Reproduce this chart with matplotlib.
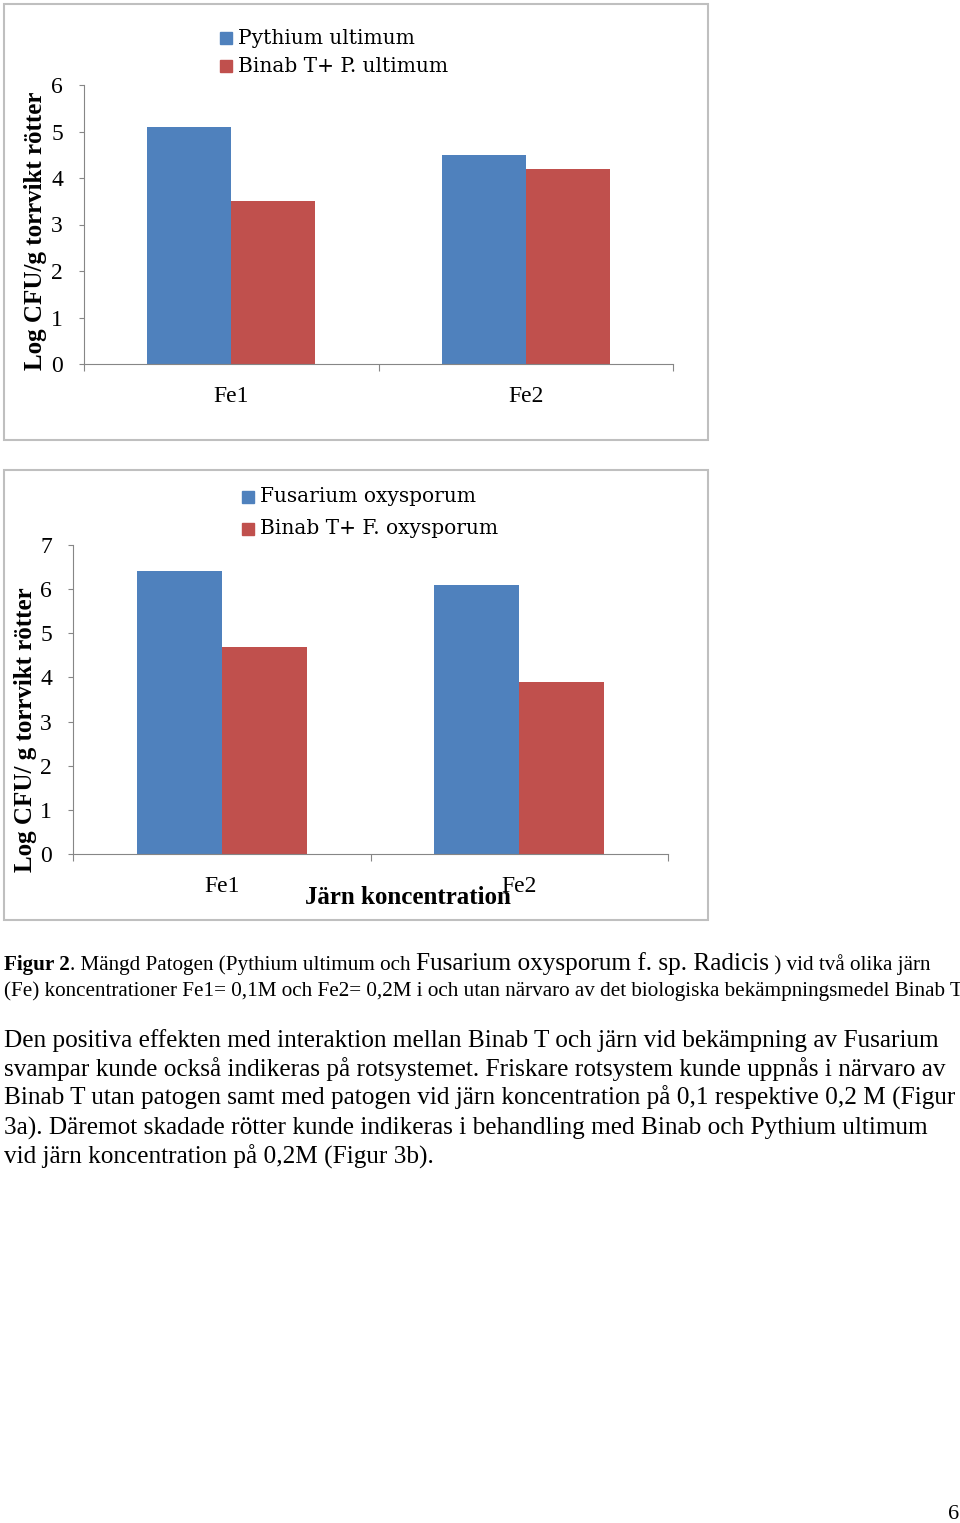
import matplotlib
matplotlib.use("Agg")
import matplotlib.pyplot as plt
from matplotlib.patches import Rectangle

# Data
categories = ["Fe1", "Fe2"]

pythium = [5.1, 4.5]
binab_pythium = [3.5, 4.2]

fusarium = [6.4, 6.1]
binab_fusarium = [4.7, 3.9]

legend_1 = ["Pythium ultimum", "Binab T+ P. ultimum"]
legend_2 = ["Fusarium oxysporum", "Binab T+ F. oxysporum"]

BLUE = "#4F81BD"
RED = "#C0504D"
AXIS = "#868686"
SERIF = "Liberation Serif"
WIDE = "DejaVu Serif"

W, H = 960, 1523
fig = plt.figure(figsize=(W / 100, H / 100), dpi=100)


def fx(x):
    return x / W


def fy(y):
    return 1 - y / H


def box(x0, y0, x1, y1):
    fig.patches.append(Rectangle((fx(x0), fy(y1)), fx(x1) - fx(x0), fy(y0) - fy(y1),
                                 transform=fig.transFigure, fill=False,
                                 edgecolor="#BFBFBF", linewidth=1.5))


def bar_chart(left, right, top, bottom, ymax, s1, s2, labels, leg_x, leg_y):
    ax = fig.add_axes([fx(left), fy(bottom), fx(right) - fx(left), fy(top) - fy(bottom)])
    x = list(range(len(categories)))
    w = 0.285
    ax.bar([i - w / 2 for i in x], s1, width=w, color=BLUE)
    ax.bar([i + w / 2 for i in x], s2, width=w, color=RED)
    ax.set_xlim(-0.5, len(categories) - 0.5)
    ax.set_ylim(0, ymax)
    ax.set_yticks(range(ymax + 1))
    ax.set_yticklabels([str(v) for v in range(ymax + 1)], fontfamily=SERIF, fontsize=17)
    ax.set_xticks([-0.5, 0.5, 1.5])
    ax.set_xticklabels([])
    ax.set_xticks(x, minor=True)
    ax.set_xticklabels(categories, minor=True, fontfamily=SERIF, fontsize=17)
    ax.tick_params(axis="x", which="minor", length=0, pad=15.5)
    ax.tick_params(axis="x", which="major", length=5, color=AXIS, direction="out")
    ax.tick_params(axis="y", length=3.6, color=AXIS, pad=11.5)
    for s in ["top", "right"]:
        ax.spines[s].set_visible(False)
    for s in ["left", "bottom"]:
        ax.spines[s].set_color(AXIS)
    # legend squares + labels
    for k, (lab, col) in enumerate(zip(labels, [BLUE, RED])):
        yy = leg_y[k]
        fig.patches.append(Rectangle((fx(leg_x), fy(yy + 6)), 12 / W, 12 / H,
                                     transform=fig.transFigure, color=col))
        fig.text(fx(leg_x + 18), fy(yy), lab, fontfamily=WIDE, fontsize=14.5,
                 va="center", ha="left")
    return ax


# Chart 1
box(4, 4, 708, 440)
bar_chart(84, 673, 85, 364, 6, pythium, binab_pythium, legend_1, 220, [38, 66])
fig.text(fx(36), fy(231), "Log CFU/g torrvikt rötter", rotation=90, fontfamily=SERIF,
         fontweight="bold", fontsize=18, ha="center", va="center")

# Chart 2
box(4, 470, 708, 920)
bar_chart(73, 668, 545, 854, 7, fusarium, binab_fusarium, legend_2, 242, [497, 529])
fig.text(fx(26), fy(730), "Log CFU/ g torrvikt rötter", rotation=90, fontfamily=SERIF,
         fontweight="bold", fontsize=18, ha="center", va="center")
fig.text(fx(408), fy(898), "Järn koncentration", fontfamily=SERIF, fontweight="bold",
         fontsize=18, ha="center", va="center")

# Caption and paragraph text, placed as runs
renderer = fig.canvas.get_renderer()


def runs(x, y, parts):
    for txt, size, weight in parts:
        t = fig.text(fx(x), fy(y), txt, fontfamily=SERIF, fontsize=size,
                     fontweight=weight, va="baseline", ha="left")
        bb = t.get_window_extent(renderer)
        x += bb.width


cap = 15.2
body = 18.2
runs(4, 970, [("Figur 2", cap, "bold"),
              (". Mängd Patogen (Pythium ultimum och ", cap, "normal"),
              ("Fusarium oxysporum f. sp. Radicis", body, "normal"),
              (" ) vid två olika järn", cap, "normal")])
runs(4, 996, [("(Fe) koncentrationer Fe1= 0,1M och Fe2= 0,2M i och utan närvaro av det "
               "biologiska bekämpningsmedel Binab T", cap, "normal")])

runs(4, 1047, [("Den positiva effekten med interaktion mellan Binab T och järn vid bekämpning av Fusarium",
                body, "normal")])
runs(4, 1076, [("svampar kunde också indikeras på rotsystemet. Friskare rotsystem kunde uppnås i närvaro av",
                body, "normal")])
runs(4, 1105, [("Binab T utan patogen samt med patogen vid järn koncentration på 0,1 respektive 0,2 M (Figur",
                body, "normal")])
runs(4, 1135, [("3a). Däremot skadade rötter kunde indikeras i behandling med Binab och Pythium ultimum",
                body, "normal")])
runs(4, 1164, [("vid järn koncentration på 0,2M (Figur 3b).", body, "normal")])

fig.text(fx(959), fy(1519), "6", fontfamily=SERIF, fontsize=16, ha="right", va="baseline")

fig.savefig("out.png", dpi=100)
